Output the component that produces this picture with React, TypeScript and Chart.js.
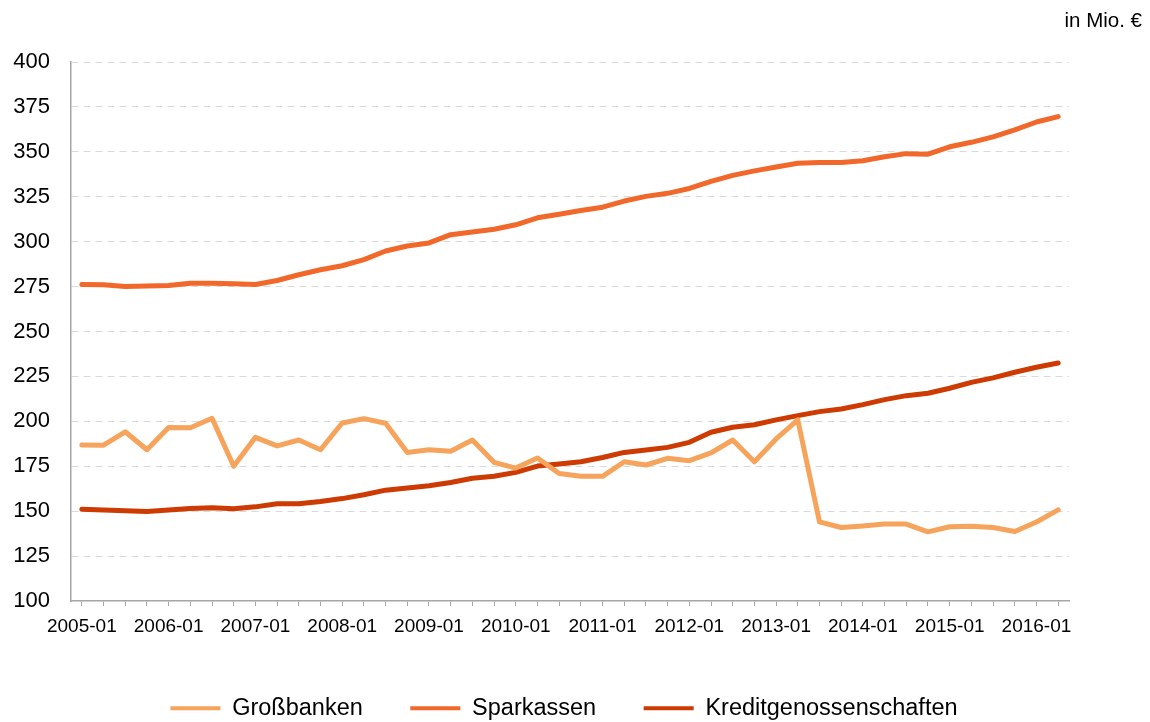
import React, { useEffect, useRef } from "react";
import { Chart, registerables } from "chart.js";

Chart.register(...registerables);

const categories: string[] = [
  "2005-01", "2005-04", "2005-07", "2005-10",
  "2006-01", "2006-04", "2006-07", "2006-10",
  "2007-01", "2007-04", "2007-07", "2007-10",
  "2008-01", "2008-04", "2008-07", "2008-10",
  "2009-01", "2009-04", "2009-07", "2009-10",
  "2010-01", "2010-04", "2010-07", "2010-10",
  "2011-01", "2011-04", "2011-07", "2011-10",
  "2012-01", "2012-04", "2012-07", "2012-10",
  "2013-01", "2013-04", "2013-07", "2013-10",
  "2014-01", "2014-04", "2014-07", "2014-10",
  "2015-01", "2015-04", "2015-07", "2015-10",
  "2016-01", "2016-04",
];

const grossbanken: number[] = [
  186.8, 186.7, 194.2, 184.2, 196.6, 196.4, 201.7, 175.0,
  191.1, 186.3, 189.6, 184.2, 199.1, 201.5, 198.9, 182.6,
  184.2, 183.3, 189.6, 177.2, 174.0, 179.6, 171.0, 169.4,
  169.4, 177.5, 175.7, 179.4, 178.1, 182.4, 189.6, 177.5,
  190.2, 200.8, 144.0, 140.9, 141.8, 142.8, 142.8, 138.5,
  141.3, 141.6, 140.9, 138.7, 144.0, 150.7,
];

const sparkassen: number[] = [
  276.2, 276.0, 275.1, 275.3, 275.6, 276.9, 276.8, 276.6,
  276.2, 278.4, 281.6, 284.4, 286.6, 290.0, 294.8, 297.6,
  299.3, 303.9, 305.4, 306.9, 309.4, 313.3, 315.3, 317.3,
  319.2, 322.6, 325.2, 326.9, 329.6, 333.6, 336.9, 339.4,
  341.6, 343.6, 344.0, 344.1, 345.0, 347.3, 349.0, 348.7,
  352.8, 355.3, 358.3, 362.2, 366.6, 369.6,
];

const kreditgenossenschaften: number[] = [
  151.1, 150.7, 150.2, 149.8, 150.6, 151.5, 151.9, 151.3,
  152.4, 154.1, 154.1, 155.4, 157.0, 159.1, 161.7, 162.9,
  164.2, 166.0, 168.3, 169.4, 171.6, 175.1, 176.3, 177.5,
  179.9, 182.7, 184.0, 185.5, 188.3, 193.9, 196.7, 198.1,
  200.8, 203.2, 205.4, 206.9, 209.3, 212.1, 214.3, 215.6,
  218.4, 221.7, 224.2, 227.3, 230.1, 232.5,
];

const seriesNames: string[] = ["Großbanken", "Sparkassen", "Kreditgenossenschaften"];
const seriesColors: string[] = ["#F6A35B", "#F2672A", "#CD3A02"];
const unitLabel = "in Mio. €";
const yMin = 100;
const yMax = 400;
const yStep = 25;

const FONT = "'Liberation Sans', Arial, sans-serif";

const unitPlugin = {
  id: "unitLabel",
  afterDraw(chart: any) {
    const ctx = chart.ctx;
    ctx.save();
    ctx.font = `20.5px ${FONT}`;
    ctx.fillStyle = "#000000";
    ctx.textAlign = "right";
    ctx.textBaseline = "middle";
    ctx.fillText(unitLabel, chart.width - 8, 21);
    ctx.restore();
  },
};

export default function App() {
  const canvasRef = useRef<HTMLCanvasElement | null>(null);

  useEffect(() => {
    if (!canvasRef.current) return;
    const values = [grossbanken, sparkassen, kreditgenossenschaften];
    const chart = new Chart(canvasRef.current, {
      type: "line",
      data: {
        labels: categories,
        datasets: seriesNames.map((name, i) => ({
          label: name,
          data: values[i],
          yAxisID: "y",
          borderColor: seriesColors[i],
          backgroundColor: seriesColors[i],
          borderWidth: 5,
          pointRadius: 0,
          pointHoverRadius: 0,
          tension: 0,
          fill: false,
          borderJoinStyle: "round" as const,
          borderCapStyle: "round" as const,
        })),
      },
      options: {
        responsive: false,
        animation: false,
        devicePixelRatio: 1,
        layout: { padding: { left: 0, right: 22, top: 62, bottom: -8 } },
        plugins: {
          tooltip: { enabled: false },
          title: { display: false },
          legend: {
            display: true,
            position: "bottom",
            labels: {
              boxWidth: 50,
              boxHeight: 4,
              padding: 47.5,
              color: "#000000",
              font: { family: FONT, size: 23.5 },
              generateLabels: (c: any) => {
                const items = Chart.defaults.plugins.legend.labels.generateLabels(c);
                return items.map((it: any) => ({
                  ...it,
                  lineWidth: 0,
                  fillStyle: it.strokeStyle,
                }));
              },
            },
          },
        },
        scales: {
          x: {
            type: "category",
            offset: true,
            afterFit: (scale: any) => {
              scale.height = 48;
            },
            grid: {
              display: true,
              drawOnChartArea: false,
              drawTicks: true,
              tickLength: 5,
              offset: false,
              color: "#A6A6A6",
              lineWidth: 1,
            },
            border: { display: true, color: "#A6A6A6", width: 1.5 },
            ticks: {
              autoSkip: false,
              maxRotation: 0,
              minRotation: 0,
              padding: 9,
              color: "#000000",
              font: { family: FONT, size: 19 },
              callback: (_v: any, index: number) => (index % 4 === 0 ? categories[index] : ""),
            },
          },
          y: {
            type: "linear",
            position: "left",
            min: yMin,
            max: yMax,
            afterFit: (scale: any) => {
              scale.width = 71;
            },
            grid: {
              drawTicks: false,
              color: (ctx: any) => (ctx.tick && ctx.tick.value === yMin ? "rgba(0,0,0,0)" : "#D9D9D9"),
              lineWidth: 1,
            },
            border: { display: true, color: "#A6A6A6", width: 1.5, dash: [7, 5] },
            ticks: {
              stepSize: yStep,
              padding: 21,
              color: "#000000",
              font: { family: FONT, size: 22 },
            },
          },
          ySpacer: {
            type: "linear",
            position: "right",
            display: true,
            min: yMin,
            max: yMax,
            afterFit: (scale: any) => {
              scale.width = 59;
            },
            grid: { display: false, drawTicks: false },
            border: { display: false },
            ticks: { display: false },
          },
        },
      },
      plugins: [unitPlugin],
    });
    return () => chart.destroy();
  }, []);

  return (
    <div style={{ position: "fixed", left: 0, top: 0, width: 1150, height: 722, background: "#ffffff" }}>
      <canvas ref={canvasRef} width={1150} height={722} style={{ display: "block" }} />
    </div>
  );
}
